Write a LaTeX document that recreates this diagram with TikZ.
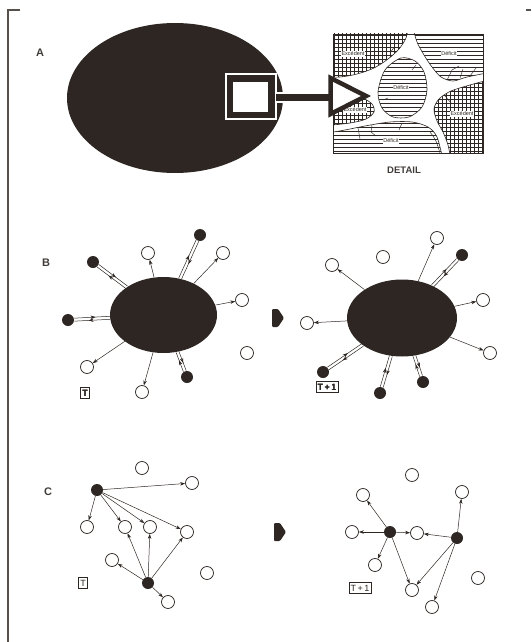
\documentclass[tikz,border=0pt]{standalone}
\usepackage{fontspec}
\setmainfont{Liberation Sans}
\usetikzlibrary{shapes.geometric, arrows.meta, calc, decorations.markings}
\definecolor{ink}{RGB}{45,38,34}

% hatching used for the two kinds of zones in the detail view
\newcommand\deficitlines{\foreach \yy in {35.5,39.5,...,155} \draw[ink, line width=0.5pt] (322,\yy) -- (492,\yy);}
\newcommand\excedentgrid{\foreach \yy in {35.5,39.5,...,155} \draw[ink, line width=0.5pt] (322,\yy) -- (492,\yy);
  \foreach \xx in {334.5,338.5,...,484} \draw[ink, line width=0.5pt] (\xx,28) -- (\xx,160);}

% two opposite arrows side by side between two nodes
\newcommand\swap[2]{%
  \path (#1) -- (#2) coordinate[pos=0] (swA) coordinate[pos=1] (swB);
  \draw[midarr] ($(swA)!1.5pt!90:(swB)$) -- ($(swB)!1.5pt!-90:(swA)$);
  \draw[midarr] ($(swB)!1.5pt!90:(swA)$) -- ($(swA)!1.5pt!-90:(swB)$);}

\begin{document}
\begin{tikzpicture}[x=1pt, y=-1pt,
  openc/.style={circle, draw=ink, line width=0.75pt, fill=white, minimum size=13pt, inner sep=0pt},
  fullc/.style={circle, fill=ink, minimum size=12pt, inner sep=0pt},
  blob/.style={ellipse, fill=ink, inner sep=0pt},
  arr/.style={draw=ink, line width=0.5pt, -{Stealth[length=5pt,width=3.5pt]}},
  midarr/.style={draw=ink, line width=0.5pt, postaction=decorate,
    decoration={markings, mark=at position 0.6 with {\arrow{Stealth[length=5pt,width=3.5pt]}}}},
  panel/.style={font=\bfseries\fontsize{11}{11}\selectfont, text=ink!90},
  tbox/.style={draw=ink, line width=0.6pt, inner sep=1.5pt, minimum height=11pt, font=\fontsize{9}{9}\selectfont, text=ink},
  tag/.style={fill=white, inner sep=0.8pt, font=\fontsize{5.5}{6}\selectfont, text=ink},
  crack/.style={ink, line width=0.45pt},
  chevron/.style={fill=ink, rounded corners=1pt},
]
\useasboundingbox (0,0) rectangle (531,642);

% page frame marks
\draw[ink!80, line width=1.3pt] (20,10) -- (8,10) -- (8,642);
\draw[ink!80, line width=1.3pt] (526,10) -- (531,10);

% ---------------- A ----------------
\node[panel] (labA) at (40,53) {A};
\node[blob, minimum width=216pt, minimum height=150pt] (cell) at (175,98) {};

% magnifier square and its arm
\draw[white, line width=11pt] (268,97.5) -- (292,97.5);
\node[fill=ink, draw=white, line width=2pt, minimum width=50pt, minimum height=45pt, inner sep=0pt] (lens) at (251,96.5) {};
\draw[ink, line width=7pt] (lens.east) ++(-1,1) -- (332,97.5) coordinate (armend);
\node[fill=white, minimum width=35pt, minimum height=30pt, inner sep=0pt] (lensin) at (250.5,97) {};

% detail view
\def\regTL{(322,28) -- (408,28) -- plot[smooth] coordinates {(408,28) (406,38) (399,49) (388,59) (374,68) (357,74) (340,77) (322,77)} -- cycle}
\def\regTR{(413,28) -- plot[smooth] coordinates {(413,28) (417,42) (424,55) (432,67) (441,77) (453,81) (467,77) (492,72)} -- (492,28) -- cycle}
\def\regC{plot[smooth cycle] coordinates {(401,58) (415,61) (424,72) (427,90) (422,107) (409,117) (393,117) (382,108) (378,92) (385,70)}}
\def\regR{(492,79) -- plot[smooth] coordinates {(492,79) (470,85) (451,91) (439,99) (434,109) (437,121) (443,132) (448,145) (451,160)} -- (492,160) -- cycle}
\def\regB{(322,134) -- plot[smooth] coordinates {(322,134) (345,130) (365,126) (390,122) (412,122) (428,127) (437,137) (443,160)} -- (322,160) -- cycle}
\def\regL{(322,95) -- plot[smooth] coordinates {(322,95) (345,96) (362,98) (372,104) (374,112) (366,119) (350,123) (322,126)} -- cycle}

\begin{scope}
  \clip (333,34) rectangle (483,153);
  \fill[white] (333,34) rectangle (483,153);
  \begin{scope}\clip \regTL; \excedentgrid \end{scope}
  \begin{scope}\clip \regL;  \excedentgrid \end{scope}
  \begin{scope}\clip \regR;  \excedentgrid \end{scope}
  \begin{scope}\clip \regTR; \deficitlines \end{scope}
  \begin{scope}\clip \regC;  \deficitlines \end{scope}
  \begin{scope}\clip \regB;  \deficitlines \end{scope}
  \draw[ink, line width=0.6pt] \regTL; \draw[ink, line width=0.6pt] \regL;
  \draw[ink, line width=0.6pt] \regR;  \draw[ink, line width=0.6pt] \regTR;
  \draw[ink, line width=0.6pt] \regC;  \draw[ink, line width=0.6pt] \regB;
  % fine fissures
  \draw[crack] (447,80) -- (452,70) -- (459,66);
  \draw[crack] (460,78) -- (463,69);
  \draw[crack] (470,76) -- (476,68);
  \draw[crack] (445,96) -- (452,104);
  \draw[crack] (358,128) -- (360,139);
  \draw[crack] (372,125) -- (371,132) -- (376,136);
  \draw[crack] (402,123) -- (399,130);
  \draw[crack] (430,132) .. controls (436,140) .. (440,153);
  \draw[crack] (390,53) -- (395,46);
  \draw[crack] (416,65) -- (412,70);
  \draw[crack] (383,100) -- (388,98);
\end{scope}
\node[tag] (tTL) at (353,54) {Excédent};
\node[tag] (tTR) at (449,54) {Déficit};
\node[tag] (tC)  at (401,88) {Déficit};
\node[tag] (tL)  at (355,110) {Excédent};
\node[tag] (tR)  at (462,114) {Excédent};
\node[tag] (tB)  at (391,141) {Déficit};
\node[draw=ink, line width=0.8pt, minimum width=150pt, minimum height=119pt, inner sep=0pt] (detail) at (408,93.5) {};

% hollow arrowhead pointing into the detail view
\draw[ink, line width=4.5pt, fill=white, line join=miter] (330.5,78) -- (366,96) -- (330.5,114) -- cycle;
\node[font=\bfseries\fontsize{9.5}{10}\selectfont, text=ink!90] (dlabel) at (404,170) {DETAIL};

% ---------------- B ----------------
\node[panel] (labB) at (46,263) {B};

% state T
\node[blob, minimum width=107pt, minimum height=76pt] (eL) at (163.5,315) {};
\node[fullc] (fL1) at (200,235) {};
\node[fullc] (fL2) at (93,262) {};
\node[fullc] (fL3) at (68,320) {};
\node[fullc] (fL4) at (187,377) {};
\node[openc] (oL1) at (148,253) {};
\node[openc] (oL2) at (223,253) {};
\node[openc] (oL3) at (242,300) {};
\node[openc] (oL4) at (247,353) {};
\node[openc] (oL5) at (87,367) {};
\node[openc] (oL6) at (142,392) {};
\foreach \o in {oL1,oL2,oL3,oL5,oL6} \draw[arr] (eL) -- (\o);
\foreach \f in {fL1,fL2,fL3,fL4} \swap{eL}{\f}
\node[tbox] (tbL) at (85,393) {T};

\fill[chevron] (272,309) -- (278,309) -- (284,318) -- (278,327) -- (272,327) -- cycle;

% state T+1
\node[blob, minimum width=110pt, minimum height=77pt] (eR) at (402,318) {};
\node[fullc] (fR1) at (462,255) {};
\node[fullc] (fR2) at (323,372) {};
\node[fullc] (fR3) at (423,382) {};
\node[fullc] (fR4) at (380,393) {};
\node[openc] (oR1) at (437,238) {};
\node[openc] (oR2) at (383,257) {};
\node[openc] (oR3) at (332,265) {};
\node[openc] (oR4) at (483,300) {};
\node[openc] (oR5) at (307,323) {};
\node[openc] (oR6) at (490,353) {};
\foreach \o in {oR1,oR3,oR4,oR5,oR6} \draw[arr] (eR) -- (\o);
\foreach \f in {fR1,fR2,fR3,fR4} \swap{eR}{\f}
\node[tbox] (tbR) at (327,387) {T\,+\,1};

% ---------------- C ----------------
\node[panel] (labC) at (48,492) {C};

% state T
\node[fullc] (fC1) at (97,490) {};
\node[fullc] (fC2) at (148,583) {};
\node[openc] (oC1) at (142,468) {};
\node[openc] (oC2) at (192,483) {};
\node[openc] (oC3) at (87,527) {};
\node[openc] (oC4) at (125,527) {};
\node[openc] (oC5) at (150,527) {};
\node[openc] (oC6) at (187,532) {};
\node[openc] (oC7) at (112,560) {};
\node[openc] (oC8) at (207,573) {};
\node[openc] (oC9) at (168,602) {};
\foreach \o in {oC2,oC3,oC4,oC5,oC6} \draw[arr] (fC1) -- (\o);
\foreach \o in {oC7,oC4,oC5,oC6,oC9} \draw[arr] (fC2) -- (\o);
\node[tbox] (tcL) at (83,583) {T};

\fill[chevron] (274,523) -- (280,523) -- (286,532) -- (280,541) -- (274,541) -- cycle;

% state T+1
\node[fullc] (fD1) at (390,532) {};
\node[fullc] (fD2) at (457,538) {};
\node[openc] (oD1) at (412,475) {};
\node[openc] (oD2) at (363,495) {};
\node[openc] (oD3) at (462,492) {};
\node[openc] (oD4) at (352,532) {};
\node[openc] (oD5) at (417,533) {};
\node[openc] (oD6) at (375,565) {};
\node[openc] (oD7) at (478,578) {};
\node[openc] (oD8) at (412,590) {};
\node[openc] (oD9) at (432,607) {};
\foreach \o in {oD2,oD4,oD5,oD6,oD8} \draw[arr] (fD1) -- (\o);
\foreach \o in {oD3,oD5,oD8,oD9} \draw[arr] (fD2) -- (\o);
\node[tbox] (tcR) at (360,588) {T\,+\,1};
\end{tikzpicture}
\end{document}
